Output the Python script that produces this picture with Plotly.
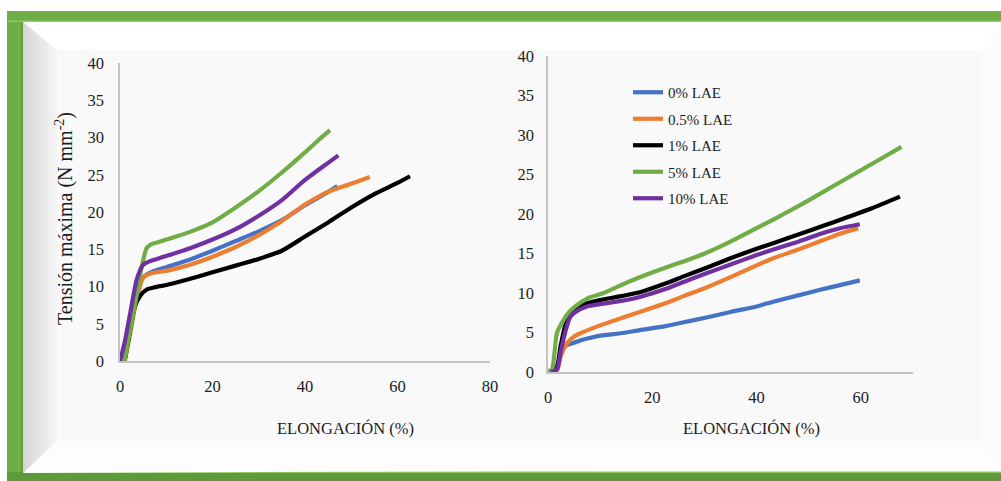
import plotly.graph_objects as go

# ---------------- data: left panel ----------------
series_names = ["0% LAE", "0.5% LAE", "1% LAE", "5% LAE", "10% LAE"]
series_colors = ["#4472C4", "#ED7D31", "#000000", "#70AD47", "#7030A0"]

left_x_0 = [1, 2, 3, 4, 4.5, 5.5, 7, 10, 15, 20, 25, 30, 35, 40, 45, 47]
left_y_0 = [0, 3.5, 7, 9.8, 10.8, 11.5, 12.0, 12.6, 13.6, 14.8, 16.1, 17.4, 18.9, 20.9, 22.7, 23.5]

left_x_05 = [1, 2, 3, 4.3, 5, 7, 10, 15, 20, 25, 30, 35, 40, 45, 50, 54]
left_y_05 = [0, 3, 6.5, 10.0, 11.2, 11.8, 12.1, 12.9, 14.0, 15.3, 16.9, 18.8, 21.0, 22.7, 23.8, 24.7]

left_x_1 = [1, 2.2, 3.2, 4.3, 5.8, 7.5, 10, 15, 20, 25, 30, 35, 40, 45, 50, 55, 60, 62.7]
left_y_1 = [0, 4.2, 7.3, 8.7, 9.6, 9.9, 10.2, 11.0, 11.9, 12.8, 13.7, 14.8, 16.7, 18.6, 20.6, 22.4, 23.9, 24.8]

left_x_5 = [1, 2.2, 3.6, 4.7, 5.8, 6.8, 8, 10, 15, 20, 25, 30, 35, 40, 43, 45.4]
left_y_5 = [0, 4.2, 8.7, 12.7, 15.2, 15.7, 15.9, 16.3, 17.3, 18.6, 20.6, 22.8, 25.3, 28.0, 29.7, 31.0]

left_x_10 = [0, 1, 2.2, 3.6, 5, 6.5, 8, 10, 15, 20, 25, 30, 35, 40, 45, 47.2]
left_y_10 = [0, 2.5, 6.4, 10.9, 12.9, 13.4, 13.7, 14.1, 15.1, 16.3, 17.7, 19.5, 21.6, 24.3, 26.6, 27.6]

# ---------------- data: right panel ----------------
right_x_0 = [0.5, 1.7, 2.7, 3.6, 5, 6.2, 8, 10, 13.9, 17.6, 22.5, 26, 30.4, 35, 40, 43.2, 48, 52.8, 56, 59.8]
right_y_0 = [0, 0.8, 2.6, 3.4, 3.7, 4.0, 4.3, 4.6, 4.9, 5.3, 5.8, 6.3, 6.9, 7.6, 8.3, 8.9, 9.7, 10.5, 11.0, 11.6]

right_x_05 = [0.5, 1.8, 2.4, 3.6, 5, 6.2, 8, 10, 14, 17.6, 22.5, 26, 30.4, 35, 40, 43.2, 48, 52.8, 56, 59.5]
right_y_05 = [0, 0.3, 1.9, 3.6, 4.5, 4.9, 5.4, 5.9, 6.8, 7.6, 8.7, 9.6, 10.7, 12.0, 13.5, 14.4, 15.5, 16.7, 17.5, 18.2]

right_x_1 = [0.5, 1.6, 2.4, 3.3, 4.3, 5.5, 7.5, 10, 14, 17.6, 22.5, 26, 30.4, 35, 40, 43.2, 48, 52.8, 57, 62, 67.5]
right_y_1 = [0, 0.3, 3.2, 5.9, 7.4, 8.1, 8.7, 9.1, 9.6, 10.1, 11.2, 12.1, 13.2, 14.4, 15.6, 16.3, 17.4, 18.5, 19.5, 20.7, 22.2]

right_x_5 = [0, 0.8, 1.7, 3.0, 4.2, 5.6, 7.5, 10.7, 14, 17.6, 22.5, 26, 30.4, 35, 40, 43.2, 48, 52.8, 57, 62, 67.8]
right_y_5 = [0, 0.4, 4.9, 6.6, 7.7, 8.5, 9.3, 10.0, 11.0, 12.0, 13.2, 14.0, 15.1, 16.5, 18.2, 19.3, 21.0, 22.8, 24.4, 26.3, 28.5]

right_x_10 = [0.5, 1.7, 2.5, 3.4, 4.3, 5.5, 7.5, 10, 14, 17.6, 22.5, 26, 30.4, 35, 40, 43.2, 48, 52.8, 56, 59.8]
right_y_10 = [0, 0.3, 2.8, 5.3, 7.0, 7.7, 8.3, 8.6, 9.0, 9.5, 10.5, 11.4, 12.5, 13.6, 14.8, 15.5, 16.5, 17.6, 18.2, 18.7]

x_ticks = [0, 20, 40, 60, 80]
y_ticks = [0, 5, 10, 15, 20, 25, 30, 35, 40]
x_title = "ELONGACIÓN (%)"
y_title = "Tensión máxima (N mm<sup>-2</sup>)"

left_series = [(left_x_0, left_y_0), (left_x_05, left_y_05), (left_x_1, left_y_1),
               (left_x_5, left_y_5), (left_x_10, left_y_10)]
right_series = [(right_x_0, right_y_0), (right_x_05, right_y_05), (right_x_1, right_y_1),
                (right_x_5, right_y_5), (right_x_10, right_y_10)]

# ---------------- figure geometry (pixels) ----------------
W, H = 1001, 481
FONT = "Liberation Serif, Times New Roman, serif"
TXT = "#1C1C1C"


def fx(p):
    return p / W


def fy(p):
    return 1 - p / H


fig = go.Figure()

for i, (xs, ys) in enumerate(left_series):
    fig.add_trace(go.Scatter(
        x=xs, y=ys, mode="lines", name=series_names[i], showlegend=False,
        line=dict(color=series_colors[i], width=4.2, shape="spline", smoothing=0.6),
        xaxis="x", yaxis="y"))

for i, (xs, ys) in enumerate(right_series):
    fig.add_trace(go.Scatter(
        x=xs, y=ys, mode="lines", name=series_names[i], legendgroup=series_names[i],
        line=dict(color=series_colors[i], width=4.2, shape="spline", smoothing=0.6),
        xaxis="x2", yaxis="y2"))

axis_common = dict(showgrid=False, zeroline=False, showline=True, linecolor="#c4c4c4",
                   linewidth=1.5, ticks="", tickfont=dict(family=FONT, size=16.5, color=TXT))

# ---------------- frame shapes ----------------
shapes = []


def rect(x0, y0, x1, y1, color):
    return dict(type="rect", xref="paper", yref="paper", x0=fx(x0), x1=fx(x1),
                y0=fy(y1), y1=fy(y0), fillcolor=color, line=dict(width=0), layer="below")


def poly(pts, color):
    path = "M " + " L ".join(f"{fx(a)},{fy(b)}" for a, b in pts) + " Z"
    return dict(type="path", xref="paper", yref="paper", path=path,
                fillcolor=color, line=dict(width=0), layer="below")


shapes.append(rect(7, 11, 1001, 481, "#70AD47"))
shapes.append(rect(7, 472, 1001, 481, "#5E9A3A"))
shapes.append(rect(23, 22, 1001, 473, "#FFFFFF"))
shapes.append(rect(7, 20.5, 1001, 22, "#8FCB62"))
shapes.append(rect(21.5, 22, 23, 473, "#5E9A3A"))
shapes.append(rect(23, 471.5, 1001, 473, "#8FCB62"))

# bevelled inner panel
IL, IT, IR, IB = 57, 50, 982, 441
OL, OT, OR, OB = 23, 22, 1001, 473
shapes.append(poly([(OL, OB), (IL, IB), (IR, IB), (OR, OB - 4)], "#FDFDFD"))
shapes.append(poly([(IR, IT), (OR, OT), (OR, OB - 4), (IR, IB)], "#FCFCFC"))

# left bevel shaded in vertical strips
n = 12
c0, c1 = (0xD6, 0xD6, 0xD6), (0xF5, 0xF5, 0xF5)


def bevel_top(x):
    return OT + (x - OL) * (IT - OT) / (IL - OL)


def bevel_bot(x):
    return OB - (x - OL) * (OB - IB) / (IL - OL)


for k in range(n):
    xa = OL + (IL - OL) * k / n
    xb = min(IL, OL + (IL - OL) * (k + 1) / n + 0.6)
    t = (k + 0.5) / n
    col = "#%02X%02X%02X" % tuple(round(c0[j] + (c1[j] - c0[j]) * t) for j in range(3))
    shapes.append(poly([(xa, bevel_top(xa)), (xb, bevel_top(xb)),
                        (xb, bevel_bot(xb)), (xa, bevel_bot(xa))], col))

shapes.append(rect(IL, IT, IR, IB, "#F9F9F9"))

annotations = [
    dict(text=x_title, xref="paper", yref="paper", x=fx(345), y=fy(428), showarrow=False,
         xanchor="center", yanchor="middle", font=dict(family=FONT, size=16.5, color=TXT)),
    dict(text=x_title, xref="paper", yref="paper", x=fx(751), y=fy(428), showarrow=False,
         xanchor="center", yanchor="middle", font=dict(family=FONT, size=16.5, color=TXT)),
    dict(text=y_title, xref="paper", yref="paper", x=fx(64), y=fy(219), showarrow=False,
         textangle=-90, xanchor="center", yanchor="middle",
         font=dict(family=FONT, size=20, color=TXT)),
]

fig.update_layout(
    width=W, height=H, margin=dict(l=0, r=0, t=0, b=0, pad=0, autoexpand=False),
    paper_bgcolor="#FFFFFF", plot_bgcolor="rgba(0,0,0,0)",
    shapes=shapes, annotations=annotations,
    xaxis=dict(domain=[fx(120), fx(490)], range=[0, 80], tickvals=x_ticks,
               ticklabelstandoff=9, anchor="y", **axis_common),
    yaxis=dict(domain=[fy(361), fy(63)], range=[0, 40], tickvals=y_ticks,
               ticklabelstandoff=11, anchor="x", **axis_common),
    xaxis2=dict(domain=[fx(548), fx(913)], range=[0, 70], tickvals=x_ticks[:4],
                ticklabelstandoff=9, anchor="y2", **axis_common),
    yaxis2=dict(domain=[fy(372), fy(56)], range=[0, 40], tickvals=y_ticks,
                ticklabelstandoff=9, anchor="x2", **axis_common),
    legend=dict(x=fx(628), y=fy(76), xanchor="left", yanchor="top",
                bgcolor="rgba(0,0,0,0)", borderwidth=0, tracegroupgap=4,
                font=dict(family=FONT, size=15, color=TXT)),
    showlegend=True,
)

# page body without default margin so the figure fills the window exactly
fig.write_html("out.html", post_script="document.body.style.margin='0';")
